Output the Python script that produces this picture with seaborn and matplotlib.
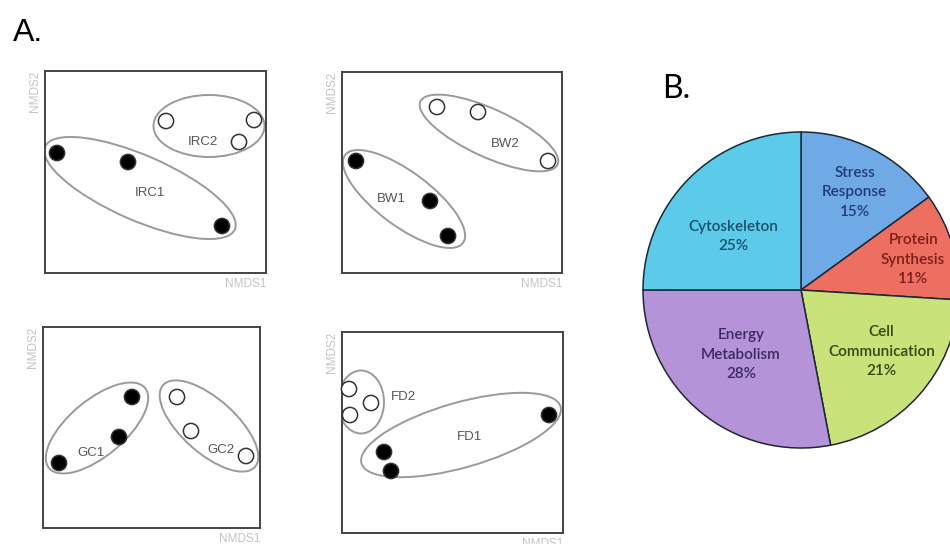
import matplotlib
matplotlib.use("Agg")
import matplotlib.pyplot as plt
import seaborn as sns
import pandas as pd
from matplotlib.patches import Ellipse

# NMDS scores (arbitrary units) for each site comparison
panels = ["IRC", "BW", "GC", "FD"]
nmds1 = {
    "IRC": [12, 83, 177, 121, 209, 194],
    "BW": [14, 88, 106, 95, 136, 206],
    "GC": [16, 76, 89, 134, 148, 203],
    "FD": [42, 49, 207, 7, 29, 8],
}
nmds2 = {
    "IRC": [120, 111, 47, 152, 153, 131],
    "BW": [112, 72, 37, 166, 161, 112],
    "GC": [65, 91, 131, 131, 97, 72],
    "FD": [81, 62, 118, 144, 130, 118],
}
groups = ["1", "1", "1", "2", "2", "2"]

# functional categories of the proteins (pie)
categories = ["Stress\nResponse", "Protein\nSynthesis", "Cell\nCommunication",
              "Energy\nMetabolism", "Cytoskeleton"]
percents = [15, 11, 21, 28, 25]

# hand drawn group outlines: (group, cx, cy, width, height, angle) in NMDS units
hulls = {
    "IRC": [("IRC1", 95, 85, 207, 65, -23.6), ("IRC2", 164, 147, 111, 62, 0)],
    "BW": [("BW1", 62, 74, 147, 54, -36.7), ("BW2", 147, 140, 151, 48, -24.7)],
    "GC": [("GC1", 54, 100, 125, 56, 39.9), ("GC2", 166, 102, 123, 54, -41.7)],
    "FD": [("FD1", 119, 98, 207, 65, 15.9), ("FD2", 19, 131, 46, 63, 0)],
}
label_pos = {
    "IRC1": (105, 80), "IRC2": (158, 131), "BW1": (49, 74), "BW2": (163, 129),
    "GC1": (48, 75), "GC2": (178, 78), "FD1": (128, 96), "FD2": (61, 136),
}

sns.set_theme(style="white")
plt.rcParams["font.family"] = ["Liberation Sans", "DejaVu Sans"]

fig = plt.figure(figsize=(9.5, 5.44), dpi=100)

# axes boxes in pixels: left, top, width, height
boxes = {
    "IRC": (45, 71, 221, 202),
    "BW": (342, 72, 220, 201),
    "GC": (43, 327, 217, 201),
    "FD": (342, 332, 221, 201),
}
W, H = 950, 544

for site in panels:
    l, t, w, h = boxes[site]
    ax = fig.add_axes([l / W, (H - t - h) / H, w / W, h / H])
    df = pd.DataFrame({"NMDS1": nmds1[site], "NMDS2": nmds2[site],
                       "group": [site + g for g in groups]})
    for name, cx, cy, ew, eh, ang in hulls[site]:
        ax.add_patch(Ellipse((cx, cy), ew, eh, angle=ang, fill=False,
                             edgecolor="#9a9a9a", lw=1.4, zorder=1))
        ax.text(*label_pos[name], name, ha="center", va="center",
                fontsize=9.5, color="#555555")
    sns.scatterplot(data=df, x="NMDS1", y="NMDS2", hue="group",
                    palette={site + "1": "black", site + "2": "white"},
                    edgecolor="#333333", linewidth=1.1, s=120,
                    legend=False, ax=ax, zorder=3, clip_on=False)
    ax.set_xlim(0, w)
    ax.set_ylim(0, h)
    ax.set_xticks([])
    ax.set_yticks([])
    ax.set_xlabel("")
    ax.set_ylabel("")
    for sp in ax.spines.values():
        sp.set_edgecolor("#444444")
        sp.set_linewidth(1.4)
    ax.text(1.0, -0.025, "NMDS1", transform=ax.transAxes, ha="right", va="top",
            fontsize=8.5, color="#c4c4c4")
    ax.text(-0.02, 1.0, "NMDS2", transform=ax.transAxes, ha="right", va="top",
            rotation=90, fontsize=8.5, color="#c4c4c4")

fig.text(13 / W, 1 - 41 / H, "A.", fontsize=23, color="black", ha="left", va="baseline")

# pie chart
pie_colors = ["#6fa9e6", "#ec6f62", "#c9e27a", "#b493d9", "#5ccbe9"]
text_colors = ["#1f3c78", "#7c1f18", "#34460f", "#3b2960", "#1b4e6c"]
r = 158
cxp, cyp = 801, 290
pax = fig.add_axes([(cxp - r) / W, (H - cyp - r) / H, 2 * r / W, 2 * r / H])
wedges, _ = pax.pie(percents, colors=pie_colors, startangle=90, counterclock=False,
                    wedgeprops=dict(edgecolor="#1c2833", linewidth=1.1))
pax.set_xlim(-1, 1)
pax.set_ylim(-1, 1)
pax.set_aspect("auto")

text_xy = [(0.34, 0.62), (0.71, 0.19), (0.51, -0.39), (-0.38, -0.41), (-0.43, 0.34)]
for cat, pct, (tx, ty), tc in zip(categories, percents, text_xy, text_colors):
    pax.text(tx, ty, f"{cat}\n{pct}%", ha="center", va="center", fontsize=11,
             color=tc, family=["Lato", "DejaVu Sans"], fontweight="semibold",
             linespacing=1.5)

fig.text(662 / W, 1 - 98 / H, "B.", fontsize=23, color="black", ha="left",
         va="baseline", family=["Lato", "DejaVu Sans"])

fig.savefig("out.png", dpi=100, facecolor="white")
